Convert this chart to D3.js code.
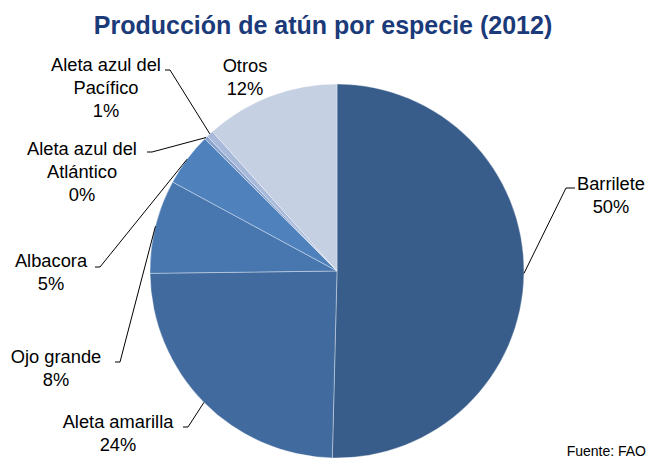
<!DOCTYPE html>
<html>
<head>
<meta charset="utf-8">
<script src="https://cdn.jsdelivr.net/npm/d3@7"></script>
<style>
  body { margin: 0; background: #fff; }
  text { font-family: "Liberation Sans", Arial, sans-serif; }
</style>
</head>
<body>
<div id="chart"></div>
<script>
// datos (porcentaje de la producción)
const especies = ["Barrilete", "Aleta amarilla", "Ojo grande", "Albacora", "Aleta azul del Atlántico", "Aleta azul del Pacífico", "Otros"]
const valores = [50.4, 24.4, 8.1, 4.6, 0.3, 0.6, 11.6]
const etiquetas = [["Barrilete"], ["Aleta amarilla"], ["Ojo grande"], ["Albacora"], ["Aleta azul del", "Atlántico"], ["Aleta azul del", "Pacífico"], ["Otros"]]
const colores = ["#385d8a", "#416a9e", "#4877b0", "#4f81bd", "#88a3cf", "#a8b9d9", "#c5d0e3"]

const width = 648
const height = 460
const cx = 337, cy = 271, radius = 187

// posicion de etiquetas: centro x, primera linea base y, codo de la guia (null = sin guia)
const labelLayout = [
  { x: 611, y: 190, elbow: [566, 188], end: [575, 188] },
  { x: 118, y: 428, elbow: [188, 427], end: [183, 427] },
  { x: 56, y: 363, elbow: [120, 362], end: [115, 362] },
  { x: 51, y: 267, elbow: [100, 267], end: [95, 267] },
  { x: 82, y: 155, elbow: [152, 152], end: [147, 152] },
  { x: 106, y: 71, elbow: [170, 70], end: [165, 70] },
  { x: 245, y: 72, elbow: null }
]

const svg = d3.select("#chart").append("svg").attr("width", width).attr("height", height)

// titulo
svg.append("text").text("Producción de atún por especie (2012)")
  .attr("x", 323).attr("y", 34).attr("text-anchor", "middle")
  .attr("font-size", 25).attr("font-weight", "bold").attr("fill", "#1b3a7a")

const total = d3.sum(valores)
const data = especies.map((d, i) => ({ name: d, value: valores[i], lines: etiquetas[i], color: colores[i], pos: labelLayout[i] }))

const pie = d3.pie().value(d => d.value).sort(null)
const arc = d3.arc().innerRadius(0).outerRadius(radius)

const pieGroup = svg.append("g").attr("transform", `translate(${cx}, ${cy})`)
const arcs = pie(data)

pieGroup.selectAll("path").data(arcs).enter().append("path")
  .attr("d", arc)
  .attr("fill", d => d.data.color)
  .attr("stroke", "rgba(255,255,255,0.45)")
  .attr("stroke-width", 0.8)

// guias
const labelGroup = svg.append("g")
arcs.forEach(a => {
  const p = a.data.pos
  if (!p.elbow) return
  const mid = (a.startAngle + a.endAngle) / 2
  const sx = cx + radius * Math.sin(mid)
  const sy = cy - radius * Math.cos(mid)
  labelGroup.append("polyline")
    .attr("points", [[sx, sy], p.elbow, p.end].map(q => q.join(",")).join(" "))
    .attr("fill", "none").attr("stroke", "#000").attr("stroke-width", 1)
})

// etiquetas
arcs.forEach(a => {
  const p = a.data.pos
  const pct = Math.round(a.data.value / total * 100) + "%"
  const lines = a.data.lines.concat([pct])
  const t = labelGroup.append("text").attr("text-anchor", "middle").attr("font-size", 18.3).attr("fill", "#000")
  lines.forEach((l, i) => {
    t.append("tspan").attr("x", p.x).attr("y", p.y + i * 23).text(l)
  })
})

// fuente
svg.append("text").text("Fuente: FAO").attr("x", 646).attr("y", 456)
  .attr("text-anchor", "end").attr("font-size", 14).attr("fill", "#000")
</script>
</body>
</html>
